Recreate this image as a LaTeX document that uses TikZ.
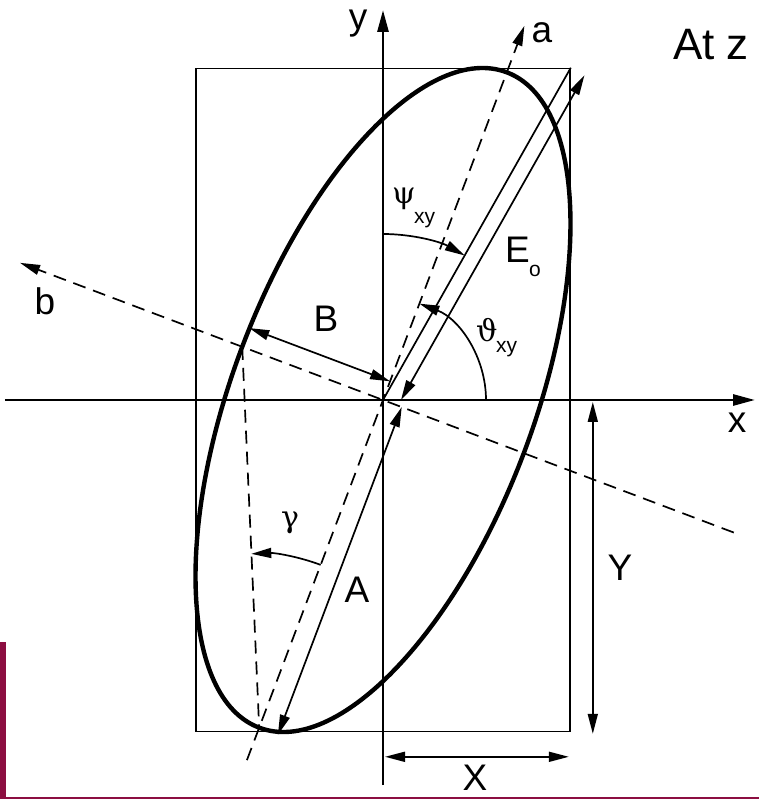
\documentclass[tikz,border=0pt]{standalone}
\usepackage{fontspec}
\setmainfont{Liberation Sans}
\newfontfamily\greekfont{DejaVu Serif}
\usetikzlibrary{calc}
\usetikzlibrary{arrows.meta}
\definecolor{maroon}{RGB}{140,14,65}

\begin{document}
\begin{tikzpicture}[x=1pt, y=1pt,
	frame/.style = {draw=black, line width=1.6pt, minimum width=374pt, minimum height=663pt, inner sep=0pt},
	curve/.style = {line width=4.4pt},
	axis/.style = {line width=2.8pt, -{Triangle[length=22pt,width=11pt]}},
	guide/.style = {line width=1.7pt, dash pattern=on 13pt off 8pt},
	thinline/.style = {line width=1.7pt},
	dim/.style = {line width=1.7pt, {Triangle[length=20pt,width=10pt]}-{Triangle[length=20pt,width=10pt]}},
	angarc/.style = {line width=1.7pt, -{Triangle[length=20pt,width=10pt]}},
	lab/.style = {font=\fontsize{37}{37}\selectfont, inner sep=0pt, anchor=base},
	sub/.style = {font=\fontsize{21}{21}\selectfont, inner sep=0pt, anchor=base west},
	grk/.style = {font=\greekfont\fontsize{30}{30}\selectfont}
]
\useasboundingbox (-383,-399) rectangle (376,400);

% maroon page decoration
\fill[maroon] (-383,-399) rectangle (-377,-242);
\fill[maroon] (-383,-399) rectangle (376,-396.5);

% main points of the ellipse
\coordinate (O) at (0,0);
\coordinate (Av) at (249.3:350.3);
\coordinate (Bv) at (159.3:150.5);
\coordinate (aTip) at (69.3:400);
\coordinate (aTail) at (249.3:385);
\coordinate (bTip) at (159.3:388);
\coordinate (bTail) at (-20.7:375);
\coordinate (xL) at (-378,0);
\coordinate (xR) at (372,0);
\coordinate (yB) at (0,-385);
\coordinate (yT) at (0,390);

% bounding rectangle and the ellipse
\node[frame] (R) at (O) {};
\draw[curve, rotate=69.3] (O) ellipse [x radius=350.3, y radius=150.5];

% axes
\draw[axis] (xL) -- (xR);
\draw[axis] (yB) -- (yT);

% principal axes a and b
\draw[guide, -{Triangle[length=20pt,width=10pt]}] (aTail) -- (aTip);
\draw[guide, -{Triangle[length=20pt,width=10pt]}] (bTail) -- (bTip);
\draw[guide] (Bv) -- (Av);

% diagonal E_o
\coordinate (E1) at (18,0);
\coordinate (E2) at ($(E1)+(60.54:373)$);
\draw[thinline] (O) -- (R.north east);
\draw[dim] (E1) -- (E2);

% half axes A and B
\coordinate (A1) at ($(O)+(-20.7:20)$);
\coordinate (A2) at ($(Av)+(-20.7:20)$);
\coordinate (B1) at ($(Bv)+(69.3:20)$);
\coordinate (B2) at ($(O)+(69.3:20)$);
\draw[dim] (A1) -- (A2);
\draw[dim] (B1) -- (B2);

% X and Y dimensions
\coordinate (Y1) at ($(R.east)+(22,-2)$);
\coordinate (Y2) at ($(R.south east)+(22,-1.5)$);
\coordinate (X1) at ($(R.south)+(2,-24.5)$);
\coordinate (X2) at ($(R.south east)+(-2,-24.5)$);
\draw[dim] (Y1) -- (Y2);
\draw[dim] (X1) -- (X2);

% angles
\draw[angarc] ($(O)+(90:166)$) arc[start angle=90, end angle=60.54, radius=166];
\draw[angarc] ($(O)+(0:103)$) arc[start angle=0, end angle=69.3, radius=103];
\draw[angarc] ($(Av)+(69.3:174)$) arc[start angle=69.3, end angle=92.6, radius=174];

% labels
\node[lab] (ly) at (-25,370.5) {y};
\node[lab] (la) at (159,357) {a};
\node[lab, anchor=base west, font=\fontsize{44}{44}\selectfont] (title) at (290,340) {At z};
\node[lab] (lb) at (-338,85) {b};
\node[lab] (lB) at (-57,68) {B};
\node[lab] (lA) at (-26,-202) {A};
\node[lab] (lY) at (237,-180) {Y};
\node[lab] (lx) at (354,-33) {x};
\node[lab] (lX) at (92,-390) {X};
\node[lab, anchor=base west] (lE) at (122,137) {E};
\node[sub] (lEs) at (146,123) {o};
\node[lab, grk, anchor=base west] (lpsi) at (9,196) {ψ};
\node[sub] (lpsis) at (31,176) {xy};
\node[lab, grk, anchor=base west] (ltheta) at (93,58) {ϑ};
\node[sub] (lthetas) at (113,47) {xy};
\node[lab, grk] (lgamma) at (-93,-127) {γ};
\end{tikzpicture}
\end{document}
